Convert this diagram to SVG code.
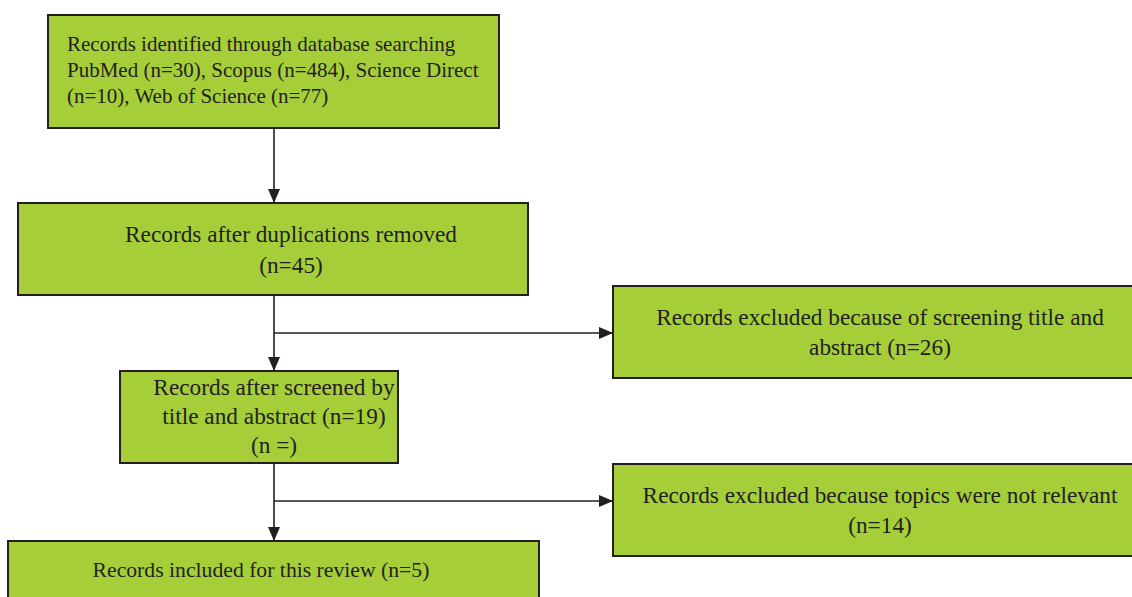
<svg xmlns="http://www.w3.org/2000/svg" width="1132" height="597" viewBox="0 0 1132 597">
<style>
.box{fill:#a6ce39;stroke:#231f20;stroke-width:2}
.t{font-size:23.3px;fill:#231f20}
.s{font-size:21px}
.m{font-size:21.7px}
.c{text-anchor:middle}
.ln{stroke:#231f20;stroke-width:1.6;fill:none}
</style>
<defs>
<marker id="ah2" viewBox="0 0 14 12" refX="14" refY="6" markerWidth="14" markerHeight="12" markerUnits="userSpaceOnUse" orient="auto"><path d="M0,0 L14,6 L0,12 z" fill="#231f20"/></marker>
</defs>
<g id="connectors">
<line class="ln" x1="274" y1="128" x2="274" y2="203" marker-end="url(#ah2)"/>
<line class="ln" x1="274" y1="295" x2="274" y2="371" marker-end="url(#ah2)"/>
<line class="ln" x1="274" y1="333" x2="613" y2="333" marker-end="url(#ah2)"/>
<line class="ln" x1="274" y1="463" x2="274" y2="541" marker-end="url(#ah2)"/>
<line class="ln" x1="274" y1="501" x2="613" y2="501" marker-end="url(#ah2)"/>
</g>
<g font-family="Liberation Serif, Times New Roman, serif">
<g id="n1">
<rect class="box" x="48" y="15" width="451" height="113"/>
<text class="t s" x="67" y="51">Records identified through database searching</text>
<text class="t s" x="67" y="77">PubMed (n=30), Scopus (n=484), Science Direct</text>
<text class="t s" x="67" y="103">(n=10), Web of Science (n=77)</text>
</g>
<g id="n2">
<rect class="box" x="18" y="203" width="510" height="92"/>
<text class="t c" x="291" y="242">Records after duplications removed</text>
<text class="t c" x="291" y="273">(n=45)</text>
</g>
<g id="n3">
<rect class="box" x="120" y="371" width="278" height="92"/>
<text class="t c" x="274" y="395">Records after screened by</text>
<text class="t c" x="274" y="424">title and abstract (n=19)</text>
<text class="t c" x="274" y="453">(n =)</text>
</g>
<g id="n4">
<rect class="box" x="613" y="286" width="530" height="92"/>
<text class="t c" x="880" y="325">Records excluded because of screening title and</text>
<text class="t c" x="880" y="355">abstract (n=26)</text>
</g>
<g id="n5">
<rect class="box" x="613" y="464" width="530" height="92"/>
<text class="t c" x="880" y="503">Records excluded because topics were not relevant</text>
<text class="t c" x="880" y="533">(n=14)</text>
</g>
<g id="n6">
<rect class="box" x="8" y="541" width="531" height="70"/>
<text class="t m c" x="261" y="577">Records included for this review (n=5)</text>
</g>
</g>
</svg>
